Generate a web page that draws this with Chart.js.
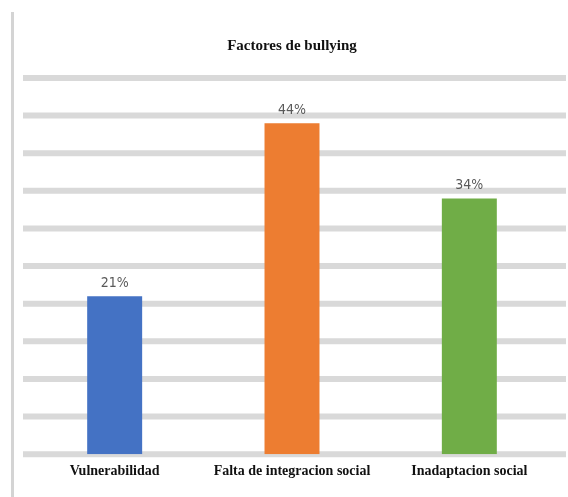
<!DOCTYPE html>
<html>
<head>
<meta charset="utf-8">
<script src="https://cdn.jsdelivr.net/npm/chart.js@4/dist/chart.umd.min.js"></script>
<style>
  html, body { margin: 0; padding: 0; background: #ffffff; }
  #wrap { position: relative; width: 568px; height: 497px; }
  #edge { position: absolute; left: 11px; top: 12px; width: 3px; height: 485px; background: #d4d4d4; }
  canvas { position: absolute; left: 0; top: 0; }
</style>
</head>
<body>
<div id="wrap">
  <canvas id="c" width="568" height="497"></canvas>
  <div id="edge"></div>
</div>
<script>
const categories = ["Vulnerabilidad", "Falta de integracion social", "Inadaptacion social"];
const values = [21, 44, 34];
const barColors = ["#4472C4", "#ED7D31", "#70AD47"];
const chartTitle = "Factores de bullying";
const yMin = 0, yMax = 50, yStep = 5;

const gridPlugin = {
  id: 'wideGrid',
  beforeDatasetsDraw(chart) {
    const ctx = chart.ctx;
    const y = chart.scales.y;
    ctx.save();
    ctx.strokeStyle = '#d9d9d9';
    ctx.lineWidth = 6;
    y.ticks.forEach(t => {
      const py = y.getPixelForValue(t.value);
      ctx.beginPath();
      ctx.moveTo(23, py);
      ctx.lineTo(566, py);
      ctx.stroke();
    });
    ctx.restore();
  }
};

const labelPlugin = {
  id: 'valueLabels',
  afterDatasetsDraw(chart) {
    const ctx = chart.ctx;
    const meta = chart.getDatasetMeta(0);
    ctx.save();
    ctx.fillStyle = '#595959';
    ctx.font = '14px "DejaVu Sans Condensed", "Liberation Sans Narrow", sans-serif';
    try { ctx.fontStretch = 'condensed'; } catch (e) {}
    ctx.textAlign = 'center';
    ctx.textBaseline = 'bottom';
    meta.data.forEach((bar, i) => {
      ctx.fillText(values[i] + '%', bar.x, bar.y - 6);
    });
    ctx.restore();
  }
};

new Chart(document.getElementById('c'), {
  type: 'bar',
  data: {
    labels: categories,
    datasets: [{
      data: values,
      backgroundColor: barColors,
      borderWidth: 0,
      barPercentage: 0.62,
      categoryPercentage: 0.5
    }]
  },
  options: {
    responsive: false,
    animation: false,
    devicePixelRatio: 1,
    layout: { padding: { left: 26, right: 10, top: 0, bottom: 8 } },
    plugins: {
      legend: { display: false },
      tooltip: { enabled: false },
      title: {
        display: true,
        text: chartTitle,
        color: '#111111',
        font: { family: '"Liberation Serif", serif', size: 15, weight: 'bold', lineHeight: 1.2 },
        padding: { top: 37, bottom: 23 }
      }
    },
    scales: {
      x: {
        grid: { display: false, drawTicks: false },
        border: { display: false },
        ticks: {
          color: '#111111',
          padding: 9,
          maxRotation: 0,
          font: { family: '"Liberation Serif", serif', size: 14, weight: 'bold' }
        }
      },
      y: {
        min: yMin,
        max: yMax,
        ticks: { stepSize: yStep, display: false },
        grid: { display: false, drawTicks: false },
        border: { display: false }
      }
    }
  },
  plugins: [gridPlugin, labelPlugin]
});
</script>
</body>
</html>
